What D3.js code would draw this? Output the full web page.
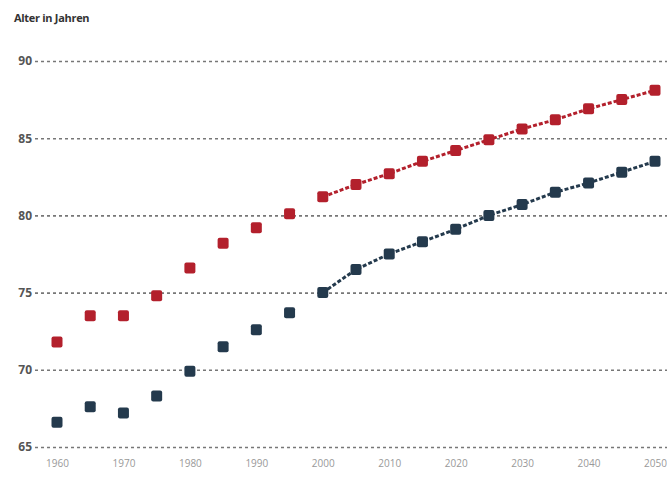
<!DOCTYPE html>
<html><head><meta charset="utf-8">
<script src="https://cdn.jsdelivr.net/npm/d3@7"></script>
<style>body{margin:0;background:#fff}svg{display:block}</style>
</head><body>
<script>
const years = [1960,1965,1970,1975,1980,1985,1990,1995,2000,2005,2010,2015,2020,2025,2030,2035,2040,2045,2050];
const women = [71.8,73.5,73.5,74.8,76.6,78.2,79.2,80.1,81.2,82.0,82.7,83.5,84.2,84.9,85.6,86.2,86.9,87.5,88.1];
const men   = [66.6,67.6,67.2,68.3,69.9,71.5,72.6,73.7,75.0,76.5,77.5,78.3,79.1,80.0,80.7,81.5,82.1,82.8,83.5];
const yTicks = [65,70,75,80,85,90];
const xTicks = [1960,1970,1980,1990,2000,2010,2020,2030,2040,2050];
const lineFrom = 2000;
const title = "Alter in Jahren";

const W = 667, H = 495;
const svg = d3.select("body").append("svg").attr("width", W).attr("height", H);
const x = d3.scaleLinear().domain([1960,2050]).range([57,655]);
const y = d3.scaleLinear().domain([65,90]).range([447,61]);

svg.append("text").attr("x",14).attr("y",22).text(title)
  .attr("font-family","Open Sans, sans-serif").attr("font-weight","bold")
  .attr("font-size",11).attr("fill","#333").attr("letter-spacing","-0.3");

const yAxis = svg.append("g").attr("transform","translate(0,0)")
  .call(d3.axisLeft(y).tickValues(yTicks).tickSize(0).tickPadding(0));
yAxis.select(".domain").remove();
yAxis.selectAll(".tick text").attr("x",32).attr("text-anchor","end")
  .attr("font-family","Open Sans, sans-serif").attr("font-weight","bold")
  .attr("font-size",12).attr("fill","#555");
yAxis.selectAll(".tick").append("line").attr("x1",35).attr("x2",W)
  .attr("stroke","#777").attr("stroke-width",1.6).attr("stroke-dasharray","3,3");

const xAxis = svg.append("g").attr("transform","translate(0,463)")
  .call(d3.axisBottom(x).tickValues(xTicks).tickFormat(d3.format("d")).tickSize(0).tickPadding(0));
xAxis.select(".domain").remove();
xAxis.selectAll(".tick text").attr("dy","0.35em")
  .attr("font-family","Open Sans, sans-serif").attr("font-size",10).attr("fill","#999");

const series = [{v:women,c:"#b3202c"},{v:men,c:"#243a4d"}];
series.forEach(s=>{
  const pts = years.map((yr,i)=>({yr,v:s.v[i]}));
  const line = d3.line().x(d=>x(d.yr)).y(d=>y(d.v));
  svg.append("path").datum(pts.filter(d=>d.yr>=lineFrom)).attr("d",line)
    .attr("fill","none").attr("stroke",s.c).attr("stroke-width",3).attr("stroke-dasharray","4,2");
  svg.append("g").selectAll("rect").data(pts).join("rect")
    .attr("x",d=>x(d.yr)-5.5).attr("y",d=>y(d.v)-5.5)
    .attr("width",11).attr("height",11).attr("rx",2)
    .attr("fill",s.c);
});
</script>
</body></html>
